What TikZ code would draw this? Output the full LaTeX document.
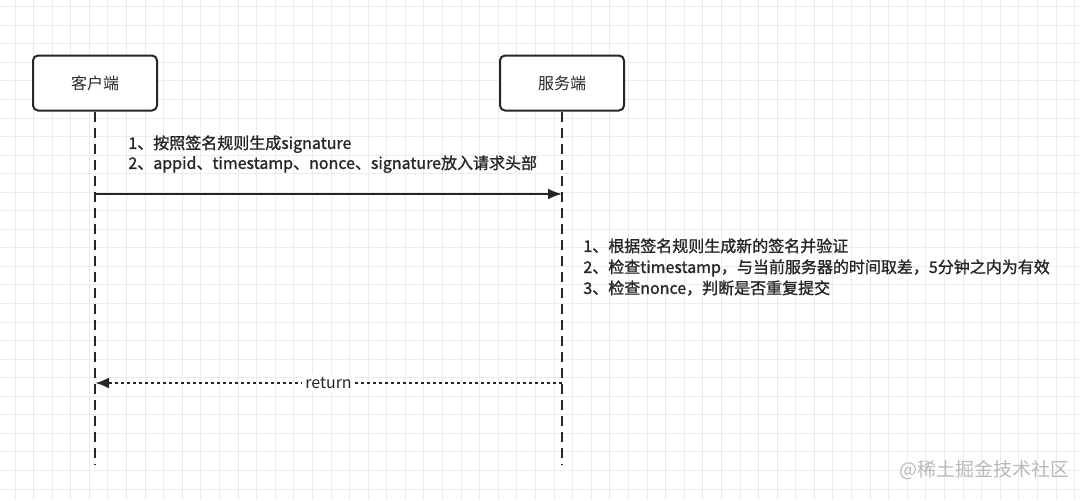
\documentclass[tikz,border=0pt]{standalone}
\usepackage{fontspec}
\setmainfont{Noto Sans CJK SC}
\newfontfamily\notefont[FakeBold=1.2]{Noto Sans CJK SC}
\usepackage{tikz}
\usetikzlibrary{positioning}
\usetikzlibrary{arrows.meta}
\definecolor{inkline}{HTML}{262626}
\definecolor{gridgray}{HTML}{ECECEC}

\tikzset{
  actor/.style = {draw=inkline, line width=1pt, rounded corners=2.5pt, fill=white,
                  minimum width=62pt, minimum height=27.5pt, inner sep=0pt, text=inkline},
  lifeline/.style = {draw=inkline, line width=1pt, dash pattern=on 5pt off 3pt},
  request/.style = {draw=inkline, line width=1pt, -{Latex[length=7pt,width=5.5pt]}},
  reply/.style = {draw=inkline, line width=1.3pt, dash pattern=on 1.5pt off 1.5pt,
                  -{Latex[length=7pt,width=5.5pt]}},
  note/.style = {align=left, inner sep=0pt, anchor=north west, text=inkline},
  gridline/.style = {draw=gridgray, line width=0.5pt},
  logo/.style = {font=\fontsize{9.5}{11}\selectfont, text=gray!55},
}

\begin{document}
\begin{tikzpicture}[x=0.5pt, y=0.5pt, font=\fontsize{8}{10}\selectfont]
    \useasboundingbox (0,0) rectangle (1080,500);

    %Grid
    \foreach \gx in {0,...,57} \draw[gridline] (15+18.59*\gx,0) -- (15+18.59*\gx,500);
    \foreach \gy in {0,...,26} \draw[gridline] (0,493.3-18.55*\gy) -- (1080,493.3-18.55*\gy);

    %Actors
    \node[actor] (Client) at (95,417) {客户端};
    \node[actor, right = 170.5pt of Client] (Server) {服务端};

    %Rows
    \coordinate (LifeBottom) at (0,35);
    \coordinate (RequestRow) at (0,306);
    \coordinate (ReplyRow) at (0,117);

    %Lifelines
    \draw[lifeline] (Client.south) -- (Client.south |- LifeBottom);
    \draw[lifeline] (Server.south) -- (Server.south |- LifeBottom);

    %Messages
    \draw[request] (Client.south |- RequestRow) -- (Server.south |- RequestRow);
    \draw[reply] (Server.south |- ReplyRow) -- node[fill=white, inner sep=1.5pt, text=inkline] (ReplyLabel) {return} (Client.south |- ReplyRow);

    %-------------------------------------------
    %Labels

    \node[note, font=\notefont\fontsize{8}{10}\selectfont] (RequestNote) at (128,365) {1、按照签名规则生成signature\\2、appid、timestamp、nonce、signature放入请求头部};

    \node[note, font=\notefont\fontsize{8}{10.5}\selectfont] (CheckNote) at (583,262) {1、根据签名规则生成新的签名并验证\\2、检查timestamp，与当前服务器的时间取差，5分钟之内为有效\\3、检查nonce，判断是否重复提交};

    \node[logo] (Watermark) at (984,30) {@稀土掘金技术社区};

\end{tikzpicture}
\end{document}
